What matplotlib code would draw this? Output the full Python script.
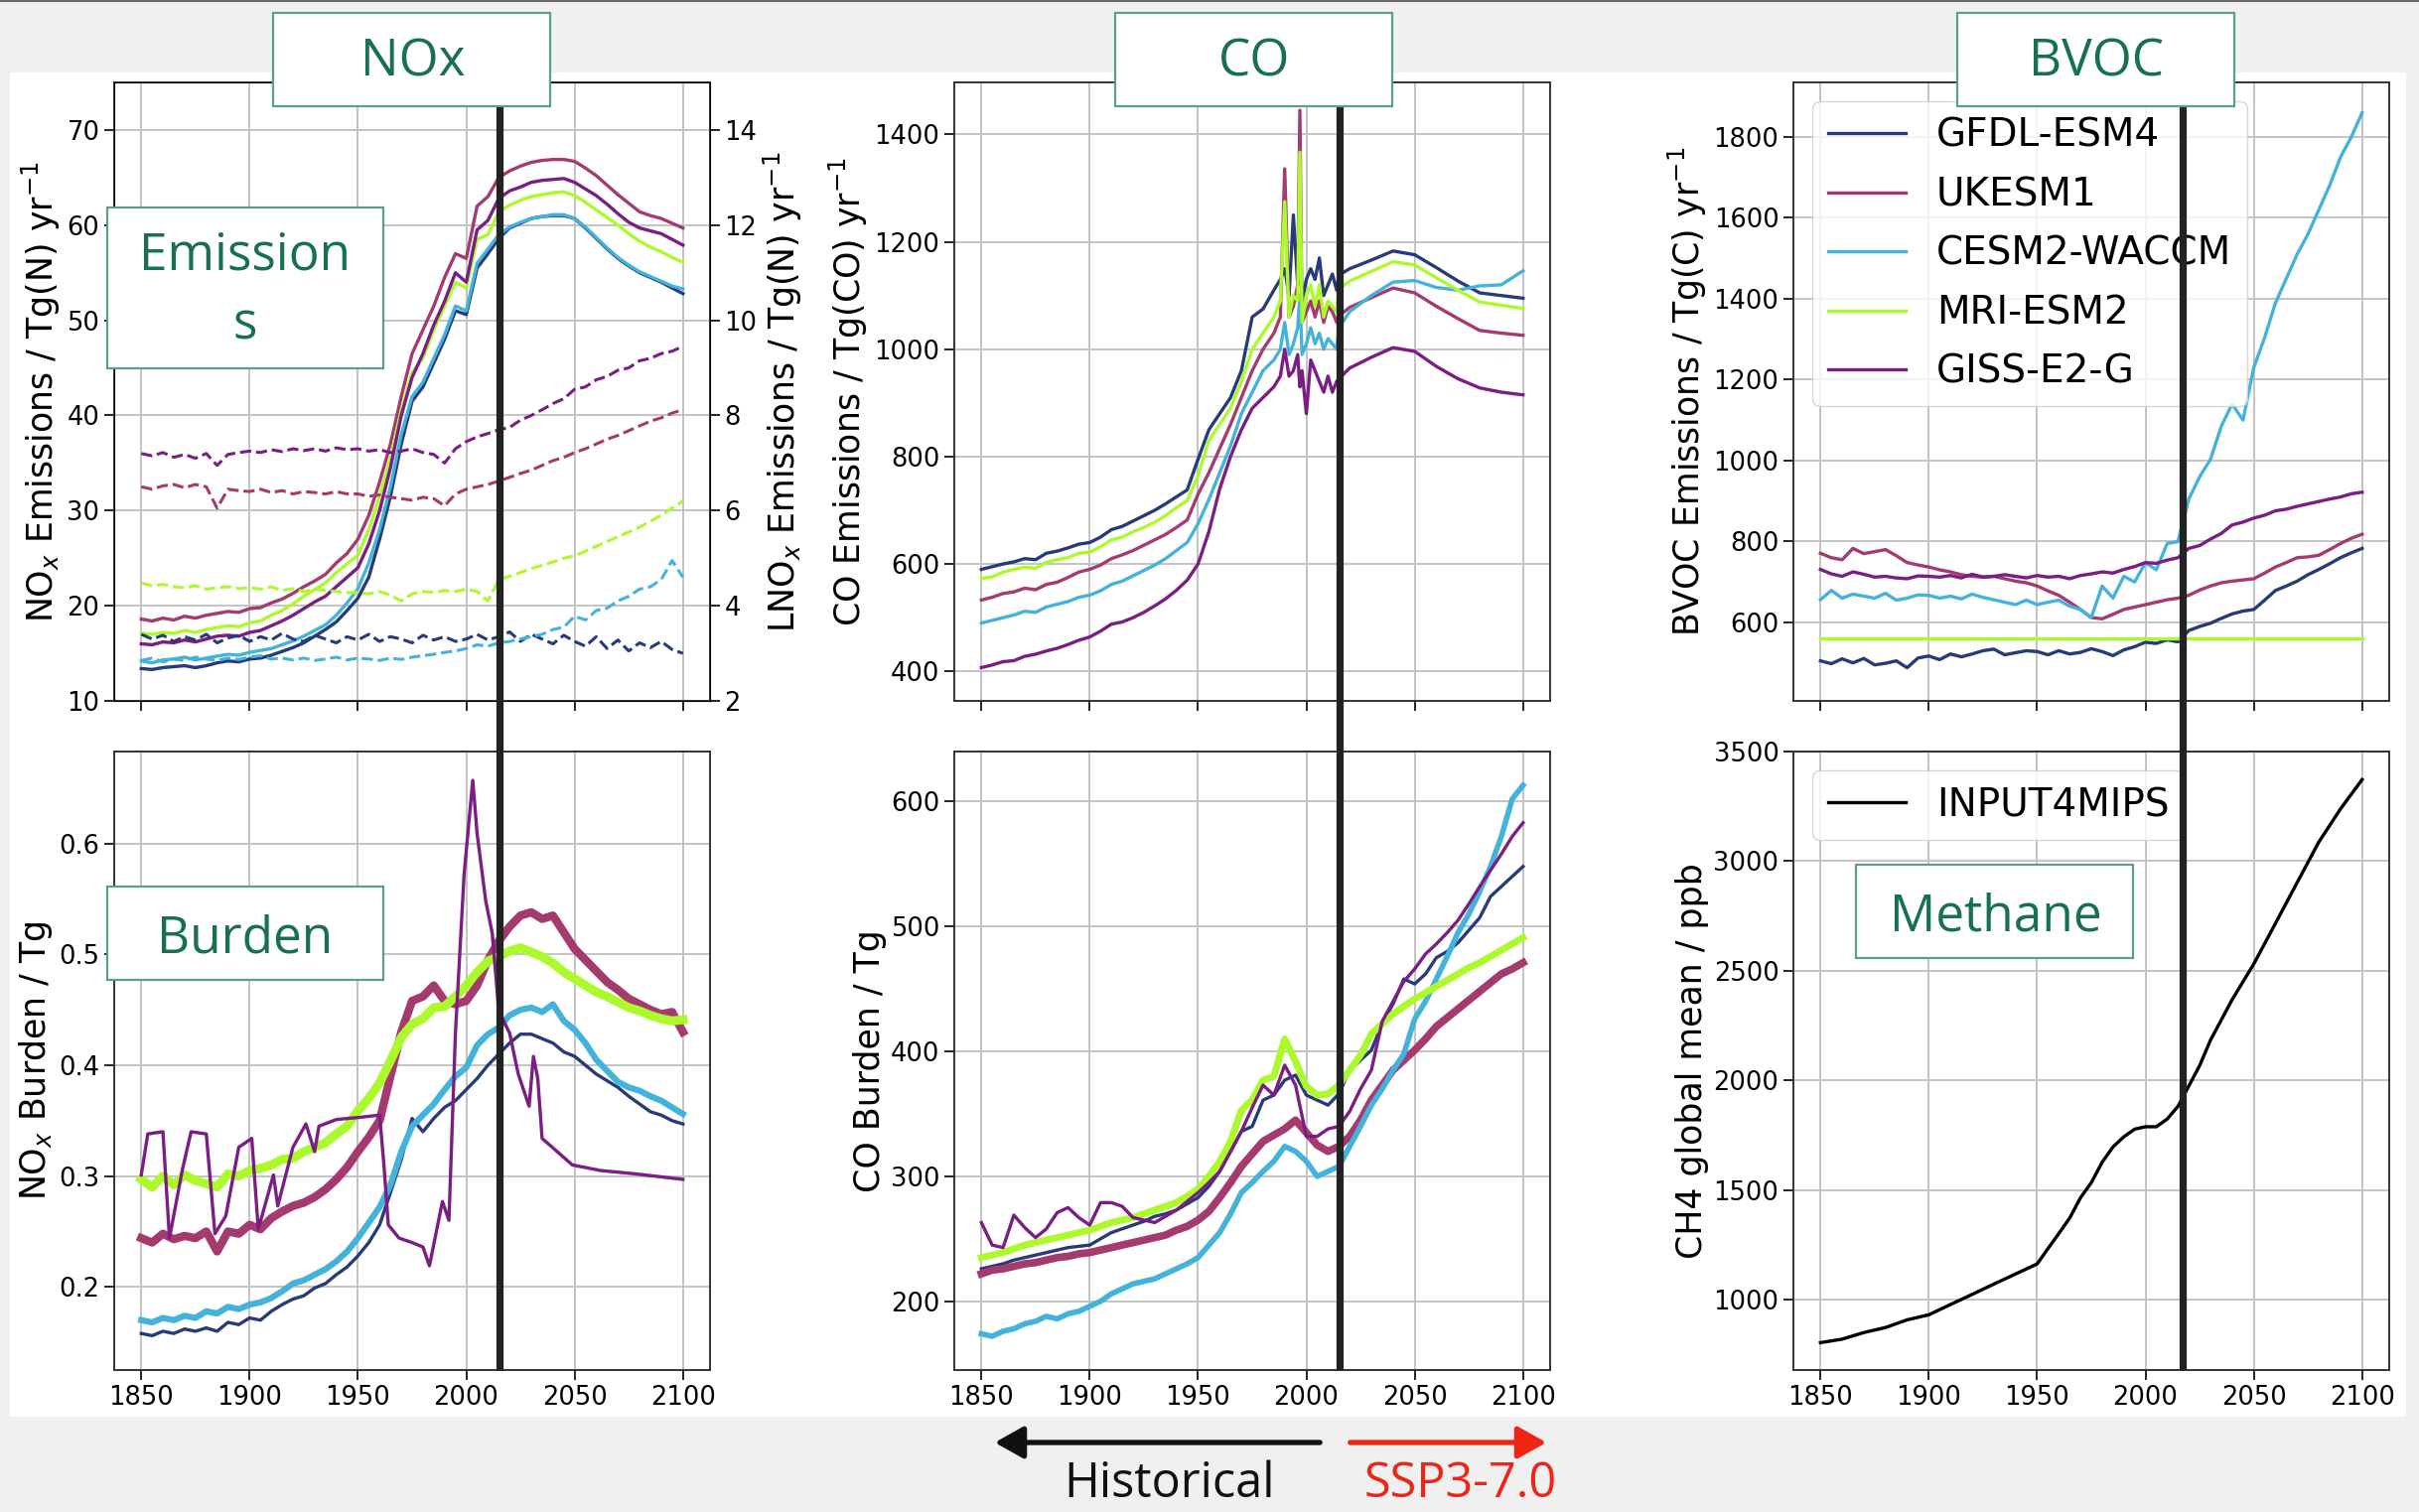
import matplotlib
matplotlib.use("Agg")
import matplotlib.pyplot as plt
from matplotlib.lines import Line2D
from matplotlib.patches import Rectangle, FancyArrowPatch

# ---------------- data ----------------
MODELS = ["GFDL-ESM4", "UKESM1", "CESM2-WACCM", "MRI-ESM2", "GISS-E2-G"]
COLORS = ["#263b78", "#a53a6e", "#43b3db", "#adfa2c", "#7b1e83"]

YR5 = list(range(1850, 2101, 5))

# NOx emissions, Tg(N)/yr (left axis)
NOX_GFDL = [13.4, 13.3, 13.5, 13.6, 13.7, 13.5, 13.7, 14.0, 14.2, 14.1, 14.4, 14.5, 14.8, 15.2, 15.6, 16.1, 16.8, 17.5, 18.3, 19.5,
            20.8, 23.0, 27.0, 31.5, 37.0, 41.5, 43.0, 45.5, 48.0, 51.0, 50.6, 55.5, 57.0,
            58.6, 59.7, 60.2, 60.7, 60.9, 61.0, 61.0, 60.7, 59.7, 58.6, 57.5, 56.5, 55.7, 55.0, 54.5, 54.0, 53.4, 52.8]
NOX_UKESM = [18.6, 18.4, 18.7, 18.5, 18.9, 18.7, 19.0, 19.2, 19.4, 19.3, 19.7, 19.8, 20.3, 20.7, 21.3, 22.0, 22.6, 23.3, 24.5, 25.5,
             27.0, 29.5, 33.0, 37.0, 42.0, 46.5, 49.0, 51.5, 54.5, 57.0, 56.5, 62.0, 63.0,
             65.0, 65.7, 66.2, 66.6, 66.8, 66.9, 66.9, 66.7, 66.0, 65.2, 64.2, 63.2, 62.3, 61.4, 61.0, 60.7, 60.2, 59.7]
NOX_CESM = [14.2, 14.0, 14.3, 14.4, 14.6, 14.3, 14.5, 14.7, 14.9, 14.8, 15.1, 15.3, 15.5, 15.9, 16.3, 16.8, 17.4, 18.0, 19.0, 20.3,
            21.8, 24.5, 28.0, 32.5, 38.0, 42.0, 43.5, 46.0, 48.5, 51.5, 51.0, 56.0, 57.5,
            59.0, 59.8, 60.3, 60.7, 60.9, 61.1, 61.1, 60.7, 59.8, 58.7, 57.6, 56.6, 55.8, 55.1, 54.6, 54.1, 53.6, 53.3]
NOX_MRI = [17.1, 17.0, 17.2, 17.1, 17.4, 17.2, 17.5, 17.7, 17.9, 17.8, 18.2, 18.4, 19.0, 19.5, 20.2, 21.0, 21.7, 22.4, 23.5, 24.4,
           25.3, 28.0, 31.5, 35.5, 40.5, 44.5, 46.0, 49.0, 51.5, 54.0, 53.4, 58.5, 59.0,
           61.4, 62.1, 62.6, 63.0, 63.2, 63.4, 63.5, 63.1, 62.4, 61.6, 60.8, 60.0, 59.1, 58.3, 57.7, 57.2, 56.6, 56.1]
NOX_GISS = [16.0, 15.9, 16.2, 16.1, 16.4, 16.2, 16.5, 16.8, 16.9, 16.8, 17.2, 17.4, 17.9, 18.4, 19.0, 19.7, 20.4, 21.0, 22.0, 23.0,
            24.0, 26.5, 30.0, 34.5, 40.0, 44.0, 46.5, 49.5, 52.0, 55.0, 54.0, 59.5, 60.5,
            62.8, 63.6, 64.0, 64.5, 64.7, 64.8, 64.9, 64.5, 63.8, 63.1, 62.2, 61.2, 60.3, 59.7, 59.4, 59.1, 58.5, 57.9]

# lightning NOx, Tg(N)/yr (right axis, dashed)
LNOX_GFDL = [3.40, 3.30, 3.38, 3.25, 3.35, 3.28, 3.40, 3.22, 3.32, 3.38, 3.25, 3.35, 3.28, 3.42, 3.30, 3.25, 3.38, 3.30, 3.22, 3.35,
             3.28, 3.40, 3.25, 3.35, 3.30, 3.22, 3.38, 3.28, 3.35, 3.25, 3.30, 3.40, 3.28,
             3.35, 3.45, 3.25, 3.40, 3.30, 3.20, 3.38, 3.25, 3.15, 3.35, 3.10, 3.28, 3.05, 3.22, 3.12, 3.25, 3.08, 3.00]
LNOX_UKESM = [6.50, 6.45, 6.52, 6.55, 6.48, 6.55, 6.50, 6.05, 6.45, 6.42, 6.40, 6.45, 6.38, 6.42, 6.35, 6.40, 6.38, 6.35, 6.40, 6.35,
              6.35, 6.30, 6.33, 6.28, 6.25, 6.22, 6.28, 6.25, 6.10, 6.35, 6.45, 6.50, 6.55,
              6.62, 6.70, 6.78, 6.85, 6.95, 7.05, 7.12, 7.22, 7.30, 7.40, 7.50, 7.58, 7.68, 7.78, 7.88, 7.95, 8.05, 8.12]
LNOX_CESM = [2.85, 2.90, 2.82, 2.88, 2.85, 2.92, 2.88, 2.85, 2.90, 2.87, 2.92, 2.95, 2.88, 2.90, 2.86, 2.90, 2.85, 2.88, 2.92, 2.86,
             2.90, 2.88, 2.85, 2.90, 2.87, 2.92, 2.95, 2.98, 3.02, 3.05, 3.10, 3.18, 3.15,
             3.22, 3.25, 3.30, 3.35, 3.40, 3.50, 3.55, 3.78, 3.70, 3.90, 3.95, 4.10, 4.20, 4.35, 4.40, 4.55, 4.95, 4.60]
LNOX_MRI = [4.48, 4.42, 4.45, 4.40, 4.38, 4.42, 4.35, 4.38, 4.40, 4.36, 4.38, 4.35, 4.40, 4.32, 4.36, 4.30, 4.35, 4.32, 4.30, 4.28,
            4.28, 4.25, 4.30, 4.22, 4.10, 4.25, 4.30, 4.28, 4.32, 4.30, 4.35, 4.30, 4.10,
            4.55, 4.62, 4.70, 4.78, 4.85, 4.92, 5.00, 5.05, 5.15, 5.25, 5.35, 5.45, 5.55, 5.65, 5.78, 5.90, 6.05, 6.20]
LNOX_GISS = [7.20, 7.15, 7.22, 7.12, 7.18, 7.10, 7.20, 6.95, 7.18, 7.22, 7.25, 7.22, 7.28, 7.24, 7.30, 7.26, 7.30, 7.25, 7.32, 7.28,
             7.30, 7.25, 7.28, 7.22, 7.25, 7.30, 7.22, 7.18, 7.00, 7.30, 7.45, 7.55, 7.62,
             7.70, 7.75, 7.90, 8.00, 8.12, 8.25, 8.35, 8.55, 8.60, 8.75, 8.82, 8.95, 9.00, 9.15, 9.20, 9.30, 9.35, 9.45]

# NOx burden, Tg
BUR_GFDL = [.158, .156, .160, .158, .162, .160, .163, .160, .168, .166, .172, .170, .178, .184, .189, .192, .199, .203, .211, .218,
            .228, .240, .256, .285, .315, .352, .340, .352, .362, .368, .378, .388, .400,
            .410, .420, .428, .428, .424, .420, .412, .408, .400, .392, .386, .380, .372, .365, .358, .355, .350, .347]
BUR_UKESM = [.244, .240, .248, .243, .246, .244, .250, .232, .250, .248, .256, .252, .262, .268, .273, .276, .281, .288, .297, .308,
             .322, .335, .350, .390, .430, .458, .462, .472, .458, .455, .458, .472, .495,
             .512, .525, .535, .538, .532, .535, .520, .505, .495, .485, .475, .468, .460, .455, .450, .446, .448, .430]
BUR_CESM = [.170, .168, .172, .170, .174, .172, .178, .176, .182, .180, .184, .186, .190, .196, .203, .206, .211, .216, .223, .232,
            .244, .258, .272, .292, .322, .345, .355, .365, .378, .390, .398, .418, .428,
            .434, .445, .450, .452, .448, .455, .440, .432, .420, .405, .395, .385, .380, .377, .372, .368, .362, .356]
BUR_MRI = [.297, .290, .300, .292, .301, .296, .293, .290, .302, .300, .305, .307, .310, .315, .316, .322, .326, .330, .338, .345,
           .359, .370, .384, .404, .425, .437, .442, .452, .453, .462, .472, .484, .494,
           .498, .503, .506, .502, .498, .492, .484, .478, .472, .466, .462, .457, .452, .449, .445, .442, .440, .441]
BUR_GISS_YR = [1850, 1853, 1860, 1863, 1869, 1873, 1880, 1884, 1889, 1895, 1901, 1904, 1911, 1913, 1920, 1926, 1930, 1932,
               1940, 1951, 1960, 1962, 1964, 1969, 1975, 1980, 1983, 1989, 1992, 1995, 1999, 2003, 2005, 2009, 2012,
               2015, 2020, 2024, 2029, 2031, 2033, 2035, 2042, 2049, 2062, 2078, 2100]
BUR_GISS = [.301, .338, .340, .244, .306, .340, .338, .248, .264, .326, .334, .252, .301, .273, .326, .347, .322, .345,
            .351, .353, .355, .310, .256, .244, .240, .236, .219, .277, .260, .429, .572, .657, .609, .548, .519,
            .449, .429, .392, .363, .408, .388, .334, .322, .310, .305, .302, .297]

# CO emissions, Tg(CO)/yr
CO_YR = list(range(1850, 1981, 5)) + [1985, 1988, 1990, 1992, 1994, 1996, 1997, 1998, 2000, 2002, 2004, 2006, 2008,
                                       2010, 2012, 2014, 2015, 2020, 2030, 2040, 2050, 2060, 2070, 2080, 2090, 2100]
CO_GFDL = [590, 595, 600, 604, 610, 608, 620, 624, 630, 637, 640, 650, 664, 670, 680, 690, 700, 712, 725, 738,
           795, 850, 880, 910, 960, 1060, 1075,
           1110, 1130, 1150, 1100, 1250, 1120, 1190, 1090, 1130, 1150, 1130, 1170, 1100, 1120, 1140, 1110,
           1138, 1150, 1166, 1183, 1176, 1152, 1127, 1105, 1100, 1095]
CO_UKESM = [533, 538, 545, 548, 555, 552, 562, 566, 575, 585, 590, 598, 610, 617, 625, 635, 645, 655, 668, 682,
            730, 770, 815, 860, 910, 960, 1000,
            1030, 1060, 1336, 1060, 1080, 1120, 1445, 1050, 1070, 1090, 1060, 1090, 1050, 1080, 1070, 1050,
            1062, 1078, 1096, 1114, 1105, 1080, 1057, 1035, 1030, 1026]
CO_CESM = [490, 495, 500, 505, 512, 510, 520, 525, 530, 538, 542, 550, 562, 568, 578, 588, 598, 610, 625, 640,
           675, 720, 770, 820, 880, 920, 960,
           980, 1000, 1050, 990, 1010, 1040, 1100, 990, 1010, 1040, 1010, 1030, 1000, 1020, 1010, 1000,
           1040, 1070, 1100, 1125, 1128, 1115, 1110, 1118, 1120, 1146]
CO_MRI = [573, 576, 585, 590, 594, 592, 603, 608, 612, 620, 622, 632, 645, 650, 660, 668, 678, 690, 705, 718,
          765, 830, 860, 890, 940, 1000, 1030,
          1060, 1090, 1275, 1060, 1100, 1090, 1367, 1050, 1100, 1120, 1080, 1120, 1060, 1090, 1080, 1070,
          1112, 1127, 1145, 1163, 1157, 1133, 1110, 1088, 1082, 1076]
CO_GISS = [407, 412, 418, 420, 428, 432, 438, 443, 450, 458, 464, 475, 488, 492, 500, 510, 522, 535, 551, 570,
           600, 660, 740, 800, 850, 890, 910,
           930, 950, 1000, 950, 960, 990, 930, 960, 880, 980, 960, 940, 920, 950, 920, 940,
           945, 965, 985, 1003, 996, 968, 945, 928, 920, 915]

# CO burden, Tg
COB_GFDL = [226, 228, 230, 233, 235, 237, 239, 241, 243, 244, 245, 250, 255, 258, 261, 264, 268, 270, 273, 278,
            283, 292, 304, 320, 336, 340, 361, 365, 377, 381, 365, 361, 357,
            366, 385, 393, 401, 422, 438, 458, 454, 462, 475, 480, 487, 497, 507, 524, 532, 540, 548]
COB_UKESM = [222, 225, 226, 228, 230, 231, 233, 235, 236, 238, 239, 241, 243, 245, 247, 249, 251, 253, 257, 260,
             265, 272, 283, 295, 308, 318, 328, 333, 338, 345, 335, 325, 320,
             324, 332, 345, 361, 373, 385, 393, 401, 410, 420, 427, 434, 441, 448, 455, 462, 466, 471]
COB_CESM = [174, 172, 176, 178, 182, 184, 188, 186, 190, 192, 196, 200, 206, 210, 214, 216, 218, 222, 226, 230,
            235, 245, 255, 270, 287, 295, 304, 312, 324, 320, 312, 300, 304,
            308, 324, 340, 357, 370, 385, 398, 426, 440, 458, 476, 495, 510, 528, 548, 572, 602, 613]
COB_MRI = [235, 237, 239, 242, 245, 247, 249, 251, 253, 255, 257, 260, 263, 265, 267, 270, 273, 276, 279, 284,
           290, 300, 312, 328, 353, 361, 377, 380, 410, 392, 372, 365, 366,
           373, 385, 397, 414, 422, 430, 436, 442, 447, 452, 457, 462, 467, 471, 476, 481, 486, 491]
COB_GISS = [263, 245, 243, 269, 259, 251, 258, 271, 275, 267, 261, 279, 279, 276, 267, 265, 263, 268, 273, 280,
            287, 295, 304, 320, 336, 355, 373, 365, 389, 373, 332, 332, 338,
            340, 352, 370, 385, 424, 440, 456, 466, 478, 486, 495, 505, 518, 532, 545, 558, 572, 583]

# BVOC emissions, Tg(C)/yr
BV_GFDL = [505, 498, 510, 500, 511, 495, 499, 505, 488, 512, 517, 508, 522, 515, 522, 530, 534, 520, 525, 530,
           528, 520, 530, 522, 526, 535, 528, 518, 532, 540, 551, 548, 557,
           552, 580, 590, 598, 610, 621, 628, 632, 655, 679, 690, 702, 718, 731, 745, 760, 772, 783]
BV_UKESM = [771, 760, 755, 783, 770, 775, 780, 765, 748, 742, 737, 730, 725, 718, 714, 712, 714, 708, 702, 698,
            690, 678, 667, 650, 632, 612, 609, 620, 632, 638, 644, 650, 656,
            660, 667, 680, 690, 698, 702, 705, 708, 722, 737, 748, 760, 762, 766, 780, 795, 808, 818]
BV_CESM = [656, 679, 660, 670, 665, 660, 672, 655, 660, 668, 667, 660, 665, 658, 670, 662, 656, 650, 644, 655,
           644, 650, 655, 640, 632, 612, 690, 660, 714, 700, 748, 730, 795,
           800, 905, 960, 1003, 1085, 1140, 1100, 1230, 1304, 1390, 1450, 1510, 1560, 1620, 1680, 1750, 1800, 1860]
BV_GISS = [731, 720, 714, 725, 719, 712, 714, 710, 708, 715, 714, 712, 716, 710, 719, 712, 714, 718, 714, 710,
           716, 712, 714, 708, 716, 720, 725, 722, 731, 738, 748, 746, 754,
           760, 783, 790, 806, 820, 841, 848, 858, 865, 876, 880, 887, 893, 899, 905, 910, 918, 922]
BV_MRI_YR = [1850, 2100]
BV_MRI = [560, 560]

# CH4 global mean, ppb (input4MIPs)
CH4_YR = [1850, 1860, 1870, 1880, 1890, 1900, 1910, 1920, 1930, 1940, 1950, 1955, 1960, 1965, 1970, 1975, 1980,
          1985, 1990, 1995, 2000, 2005, 2010, 2015, 2020, 2025, 2030, 2040, 2050, 2060, 2070, 2080, 2090, 2100]
CH4 = [803, 819, 849, 872, 907, 930, 977, 1023, 1070, 1116, 1162, 1232, 1301, 1371, 1464, 1533, 1626,
       1696, 1742, 1777, 1788, 1788, 1823, 1881, 1974, 2067, 2183, 2368, 2531, 2716, 2902, 3087, 3238, 3372]

# ---------------- figure ----------------
W, H = 2436, 1523
BOX_EDGE = "#5d9f86"
BOX_TEXT = "#17704f"
BOX_FONT = ["Open Sans", "DejaVu Sans"]

fig = plt.figure(figsize=(W / 100, H / 100), dpi=100, facecolor="#f0f0f0")


def fx(x):
    return x / W


def fy(y):
    return 1 - y / H


def px_rect(x0, y0, x1, y1):
    return [fx(x0), fy(y1), (x1 - x0) / W, (y1 - y0) / H]


# white slide area + thin top border
fig.add_artist(Rectangle((fx(10), fy(1427)), 2413 / W, 1354 / H, transform=fig.transFigure,
                         facecolor="white", edgecolor="none", zorder=-1))
fig.add_artist(Line2D([0, 1], [fy(1), fy(1)], transform=fig.transFigure, color="#6a6a6a", lw=1.5, zorder=-1))

XLIM = (1837.5, 2112.5)


def style(ax, show_x):
    ax.set_xlim(*XLIM)
    ax.set_xticks(range(1850, 2101, 50))
    ax.grid(True, color="#c4c4c4", lw=1.4)
    ax.set_axisbelow(True)
    ax.tick_params(labelsize=18.5, length=7, width=1.2, labelbottom=show_x)
    for s in ax.spines.values():
        s.set_linewidth(1.4)
        s.set_color("#333333")


LAB = dict(fontsize=25, labelpad=3)
cols = [115, 961, 1806]
axA = fig.add_axes(px_rect(cols[0], 83, cols[0] + 600, 706))
axB = fig.add_axes(px_rect(cols[0], 757, cols[0] + 600, 1380))
axC = fig.add_axes(px_rect(cols[1], 83, cols[1] + 600, 706))
axD = fig.add_axes(px_rect(cols[1], 757, cols[1] + 600, 1380))
axE = fig.add_axes(px_rect(cols[2], 83, cols[2] + 600, 706))
axF = fig.add_axes(px_rect(cols[2], 757, cols[2] + 600, 1380))

# --- NOx emissions (solid) + lightning NOx (dashed, right axis)
style(axA, False)
axA2 = axA.twinx()
for vals, lvals, c in zip([NOX_GFDL, NOX_UKESM, NOX_CESM, NOX_MRI, NOX_GISS],
                          [LNOX_GFDL, LNOX_UKESM, LNOX_CESM, LNOX_MRI, LNOX_GISS], COLORS):
    axA.plot(YR5, vals, color=c, lw=2.4)
    axA2.plot(YR5, lvals, color=c, lw=2.2, ls="--")
axA.set_ylim(10, 75)
axA.set_yticks(range(10, 71, 10))
axA2.set_ylim(2, 15)
axA2.set_yticks(range(2, 15, 2))
axA2.tick_params(labelsize=18.5, length=7, width=1.2)
axA.set_ylabel(r"NO$_x$ Emissions / Tg(N) yr$^{-1}$", **LAB)
axA2.set_ylabel(r"LNO$_x$ Emissions / Tg(N) yr$^{-1}$", fontsize=25, labelpad=3)

# --- NOx burden
style(axB, True)
for vals, c, lw in zip([BUR_GFDL, BUR_UKESM, BUR_CESM, BUR_MRI], COLORS[:4], [2.4, 6, 4.5, 6.5]):
    axB.plot(YR5, vals, color=c, lw=lw)
axB.plot(BUR_GISS_YR, BUR_GISS, color=COLORS[4], lw=2.4)
axB.set_ylim(0.125, 0.683)
axB.set_yticks([0.2, 0.3, 0.4, 0.5, 0.6])
axB.set_ylabel(r"NO$_x$ Burden / Tg", **LAB)

# --- CO emissions
style(axC, False)
for vals, c in zip([CO_GFDL, CO_UKESM, CO_CESM, CO_MRI, CO_GISS], COLORS):
    axC.plot(CO_YR, vals, color=c, lw=2.4)
axC.set_ylim(345, 1497)
axC.set_yticks(range(400, 1401, 200))
axC.set_ylabel(r"CO Emissions / Tg(CO) yr$^{-1}$", **LAB)

# --- CO burden
style(axD, True)
for vals, c, lw in zip([COB_GFDL, COB_UKESM, COB_CESM, COB_MRI, COB_GISS], COLORS, [2.4, 5.5, 4, 5, 2.4]):
    axD.plot(YR5, vals, color=c, lw=lw)
axD.set_ylim(145, 640)
axD.set_yticks(range(200, 601, 100))
axD.set_ylabel("CO Burden / Tg", **LAB)

# --- BVOC emissions
style(axE, False)
for vals, c, name in zip([BV_GFDL, BV_UKESM, BV_CESM], COLORS[:3], MODELS[:3]):
    axE.plot(YR5, vals, color=c, lw=2.4, label=name)
axE.plot(BV_MRI_YR, BV_MRI, color=COLORS[3], lw=2.4, label=MODELS[3])
axE.plot(YR5, BV_GISS, color=COLORS[4], lw=2.4, label=MODELS[4])
axE.set_ylim(406, 1935)
axE.set_yticks(range(600, 1801, 200))
axE.set_ylabel(r"BVOC Emissions / Tg(C) yr$^{-1}$", **LAB)
axE.legend(loc="upper left", fontsize=28, labelspacing=0.55)

# --- CH4
style(axF, True)
axF.plot(CH4_YR, CH4, color="black", lw=2.4, label="INPUT4MIPS")
axF.set_ylim(678, 3500)
axF.set_yticks(range(1000, 3501, 500))
axF.set_ylabel("CH4 global mean / ppb", **LAB)
axF.legend(loc="upper left", fontsize=28)

# --- historical / scenario split lines
for ax, yr in zip([axA, axC, axE], [2015.5, 2015.5, 2017]):
    pos = ax.get_position()
    x = pos.x0 + (yr - XLIM[0]) / (XLIM[1] - XLIM[0]) * pos.width
    fig.add_artist(Line2D([x, x], [fy(1380), fy(103)], transform=fig.transFigure,
                          color="#222222", lw=5.2, solid_capstyle="butt", zorder=5))

# --- label boxes
boxes = [
    ((275, 13, 554, 107), ["NOx"], [76.5], 416),
    ((1123, 13, 1402, 107), ["CO"], [76.5], 1263),
    ((1971, 13, 2250, 107), ["BVOC"], [76.5], 2111),
    ((108, 209, 386, 371), ["Emission", "s"], [272, 342], 247),
    ((108, 893, 386, 987), ["Burden"], [959], 247),
    ((1869, 871, 2148, 965), ["Methane"], [938], 2010),
]
for (x0, y0, x1, y1), lines, bases, xc in boxes:
    fig.add_artist(Rectangle((fx(x0), fy(y1)), (x1 - x0) / W, (y1 - y0) / H, transform=fig.transFigure,
                             facecolor="white", edgecolor=BOX_EDGE, lw=1.6, zorder=6))
    for txt, yb in zip(lines, bases):
        fig.text(fx(xc), fy(yb), txt, ha="center", va="baseline", fontsize=37,
                 family=BOX_FONT, color=BOX_TEXT, zorder=7)

# --- period arrows
fig.add_artist(FancyArrowPatch((fx(1332), fy(1453)), (fx(999), fy(1453)), transform=fig.transFigure,
                               arrowstyle="-|>,head_length=0.8,head_width=0.45", mutation_scale=22,
                               color="#111111", lw=3.8, zorder=5))
fig.add_artist(FancyArrowPatch((fx(1357), fy(1453)), (fx(1560), fy(1453)), transform=fig.transFigure,
                               arrowstyle="-|>,head_length=0.8,head_width=0.45", mutation_scale=22,
                               color="#ee2414", lw=3.8, zorder=5))
fig.text(fx(1178), fy(1508), "Historical", ha="center", va="baseline", fontsize=35,
         family=BOX_FONT, color="#111111")
fig.text(fx(1471), fy(1508), "SSP3-7.0", ha="center", va="baseline", fontsize=35,
         family=BOX_FONT, color="#ee2414")

fig.savefig("out.png", dpi=100, facecolor=fig.get_facecolor())
